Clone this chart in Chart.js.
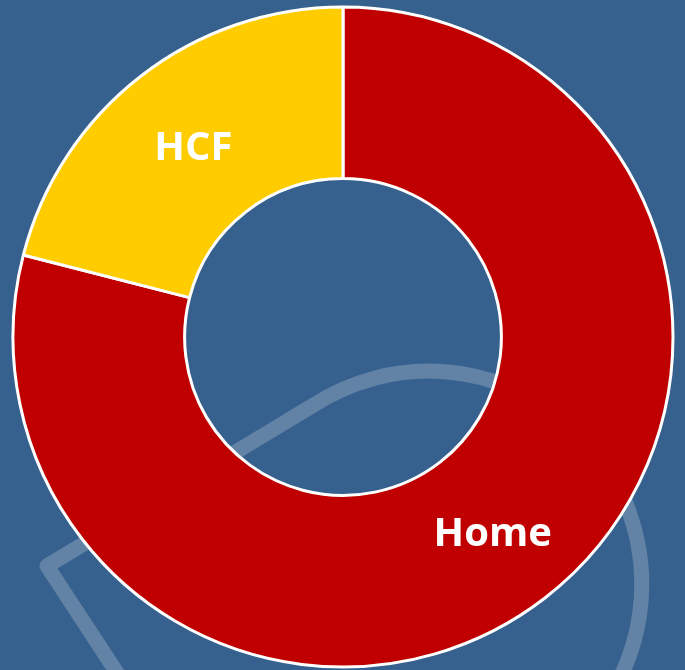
<!DOCTYPE html>
<html>
<head>
<meta charset="utf-8">
<script src="https://cdn.jsdelivr.net/npm/chart.js@4"></script>
<style>
  html, body { margin: 0; padding: 0; background: #36608e; }
  #wrap { position: relative; width: 685px; height: 670px; overflow: hidden; }
  #deco, #chart { position: absolute; left: 0; top: 0; }
</style>
</head>
<body>
<div id="wrap">
  <!-- faint background swoosh -->
  <svg id="deco" width="685" height="670">
    <path d="M 125 685 L 47 566 L 312 406 A 213 213 0 0 1 619 680"
          fill="none" stroke="rgba(255,255,255,0.22)" stroke-width="15" stroke-linejoin="round"/>
  </svg>
  <canvas id="chart" width="685" height="670"></canvas>
</div>
<script>
'use strict';

// Data

const categories = ['Home', 'HCF'];
const shares = [79, 21];
const sliceColours = ['#c00000', '#ffcc00'];

// Draw the category name in the middle of each slice

const sliceLabels = {
    id: 'sliceLabels',
    afterDatasetsDraw(chart) {
        let ctx = chart.ctx;
        let arcs = chart.getDatasetMeta(0).data;
        ctx.save();
        ctx.fillStyle = '#ffffff';
        ctx.font = 'bold 40px "Open Sans"';
        ctx.textAlign = 'center';
        ctx.textBaseline = 'middle';
        for (let i = 0; i < arcs.length; i++) {
            let pos = arcs[i].tooltipPosition();
            ctx.fillText(chart.data.labels[i], pos.x, pos.y + 5);
        }
        ctx.restore();
    }
};

new Chart(document.getElementById('chart').getContext('2d'), {
    type: 'doughnut',
    data: {
        labels: categories,
        datasets: [{
            data: shares,
            backgroundColor: sliceColours,
            borderColor: '#ffffff',
            borderWidth: 3
        }]
    },
    options: {
        responsive: false,
        animation: false,
        cutout: '48%',
        layout: { padding: { top: 5.5, bottom: 1.5, left: 1, right: 0 } },
        plugins: {
            legend: { display: false },
            tooltip: { enabled: false }
        }
    },
    plugins: [sliceLabels]
});
</script>
</body>
</html>
